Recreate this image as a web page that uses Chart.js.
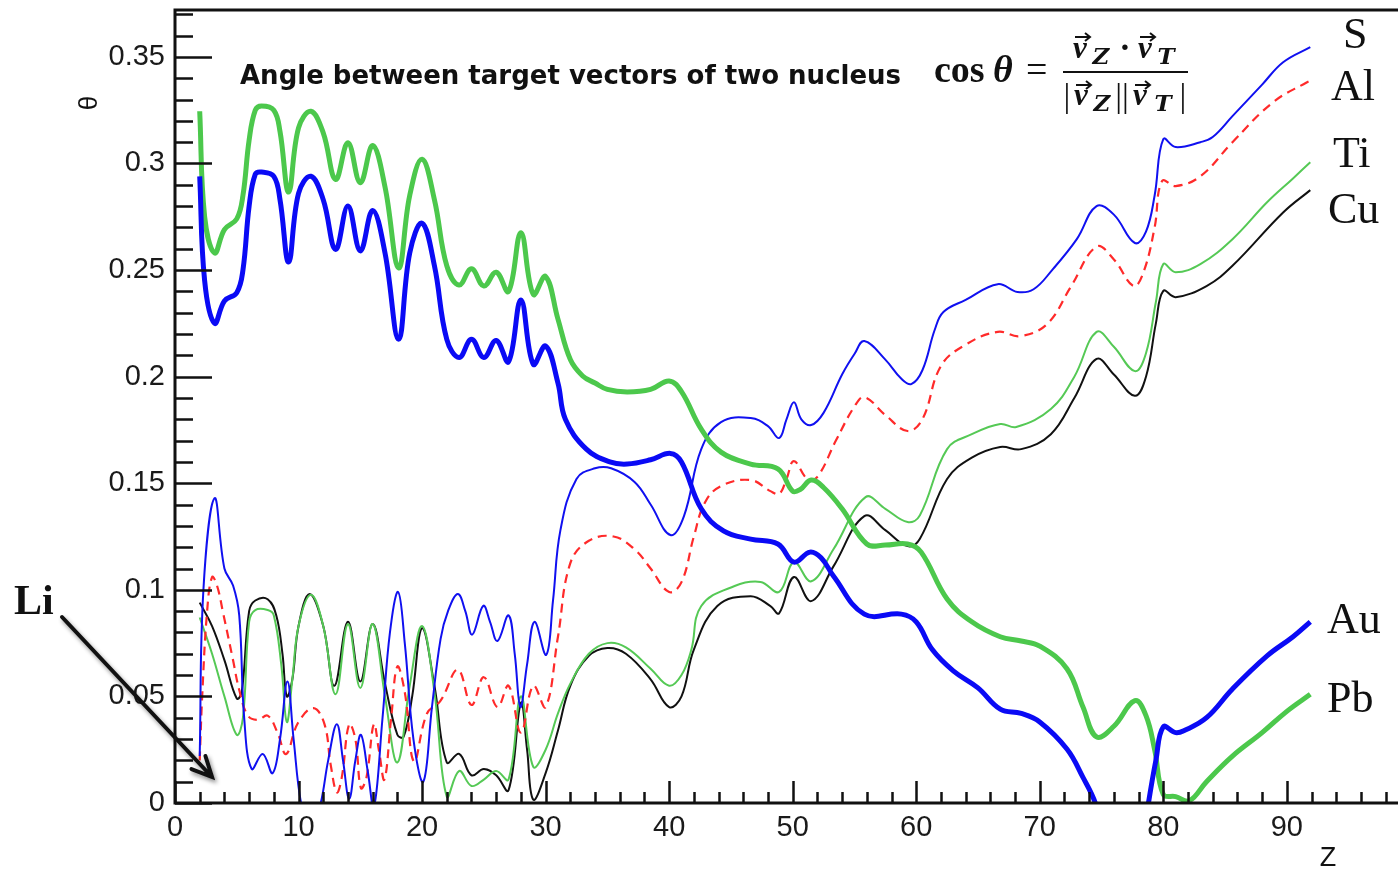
<!DOCTYPE html>
<html><head><meta charset="utf-8">
<script src="https://cdn.jsdelivr.net/npm/chart.js@4.4.1/dist/chart.umd.min.js"></script>
<style>html,body{margin:0;padding:0;background:#fff;overflow:hidden}canvas{display:block}</style>
</head><body>
<canvas id="c" width="1398" height="873"></canvas>
<script>
// ---- data (Z vs theta) ----
const sZ = [2,2.3,3.2,4,4.7,5.2,5.6,6.2,7.1,7.9,8.5,9.1,9.6,10.2,11,11.8,12.4,13.1,13.6,14.1,14.6,15.05,15.6,16.1,16.8,17.4,18.06,18.6,19.3,20.1,20.8,21.5,22.1,22.9,23.5,24.06,24.95,25.5,26.1,27,27.5,27.96,28.5,29.1,30.05,30.6,31.2,32.5,34,35.3,37.2,38.5,40.1,41.2,42.6,44.2,46.6,48,48.9,49.5,50.1,50.7,51.5,52.5,54,55,55.8,57.5,58.8,59.6,60.5,61.5,62.2,64,66.6,68.2,69.5,71,73,74.6,76,77.7,78.6,79.3,80,81,83,84,85.6,88,89.7,91.9];
const sTheta = [0.022,0.100,0.143,0.110,0.102,0.088,0.040,0.016,0.023,0.014,0.030,0.057,0.030,0.000,-0.015,0.000,0.020,0.037,0.020,0.002,0.020,0.032,0.015,-0.002,0.040,0.080,0.099,0.075,0.030,0.010,0.045,0.077,0.090,0.098,0.090,0.079,0.0925,0.085,0.076,0.088,0.070,0.045,0.065,0.085,0.0695,0.095,0.128,0.152,0.157,0.157,0.1506,0.140,0.1257,0.1346,0.166,0.1787,0.1806,0.1768,0.1712,0.180,0.188,0.180,0.1773,0.183,0.201,0.2106,0.2167,0.208,0.199,0.1965,0.203,0.222,0.2303,0.236,0.2434,0.2397,0.241,0.250,0.2645,0.280,0.276,0.2627,0.268,0.285,0.3114,0.3077,0.310,0.3124,0.3222,0.337,0.3475,0.3546];

const alZ = [2,2.2,2.6,3.0,3.4,3.9,4.7,5.2,5.9,6.7,7.5,8.3,9.0,9.95,11.2,12.1,12.6,13.1,13.5,14.1,14.6,15.05,15.5,16.1,16.5,16.95,17.5,18.0,18.6,19.35,20.4,21.5,22.9,24,25,26.1,27,28,29,30,31,32,33.5,35.5,37.2,38.5,40,41,42,42.9,44.2,46.6,48.2,48.9,49.5,50.1,51.2,52,53.5,55,55.8,57.5,59.3,60.5,62,64,66.6,68.4,70.6,72.5,74.6,76,77.6,78.4,79.3,79.9,81,83,85.6,88.9,91.6,92];
const alTheta = [0.020,0.050,0.090,0.106,0.102,0.089,0.067,0.053,0.041,0.039,0.041,0.033,0.023,0.0375,0.0445,0.037,0.018,0.005,0.012,0.037,0.030,0.007,0.012,0.037,0.025,0.011,0.040,0.064,0.052,0.0195,0.042,0.048,0.0625,0.046,0.059,0.045,0.055,0.033,0.055,0.045,0.078,0.1125,0.123,0.125,0.119,0.110,0.099,0.1036,0.125,0.141,0.1487,0.1515,0.1463,0.145,0.152,0.1604,0.152,0.153,0.170,0.186,0.1904,0.182,0.1745,0.180,0.205,0.215,0.221,0.219,0.2247,0.242,0.261,0.255,0.2425,0.249,0.270,0.2918,0.2894,0.294,0.310,0.3288,0.338,0.339];

const tiZ = [2,3,4,5,5.5,6,6.5,7.5,8,8.6,9.05,9.5,10,11,12,13,14,15,16,17,18,19,20,21,22,23,24,25,26,27,28,29,30,31,32,33.5,35,36.5,38.5,40,41,41.8,42.6,45.3,47.4,48.9,50.1,51.5,53.3,55.9,57.5,59.3,60.3,62.5,64.5,66.8,68.1,70.9,72.8,74.6,76,77.7,78.6,79.4,80,81,83,85.6,88.4,90.5,91.9];
const tiTheta = [0.087,0.070,0.050,0.032,0.040,0.085,0.0905,0.0905,0.088,0.065,0.038,0.058,0.083,0.0977,0.083,0.051,0.084,0.054,0.084,0.050,0.019,0.055,0.083,0.052,0.003,0.015,0.008,0.011,0.015,0.011,0.050,0.017,0.025,0.042,0.056,0.070,0.075,0.073,0.063,0.055,0.060,0.072,0.0924,0.1018,0.1037,0.099,0.113,0.104,0.119,0.1435,0.138,0.1318,0.135,0.166,0.173,0.1778,0.1764,0.1848,0.200,0.221,0.214,0.2026,0.211,0.235,0.2528,0.249,0.2528,0.2645,0.2818,0.293,0.3006];

const cuZ = [2,3,4,5,5.4,6,6.5,7.5,8.2,8.7,9.05,9.5,10,10.9,12,12.9,14,15,16,17,18,18.5,19.2,20,21,22,23,24,25,26,27,28,28.5,29,30,31,32,33.5,35,36.5,38.5,40,41,42,43.9,46.6,48.2,48.9,50.1,51.5,53.3,55.8,57.5,59.3,60.3,62.5,64.5,66.8,68.5,70.9,72.8,74.6,76,77.7,78.6,79.4,80,81,83.5,85.6,89.7,91.9];
const cuTheta = [0.094,0.083,0.067,0.049,0.052,0.090,0.095,0.0956,0.088,0.070,0.050,0.058,0.083,0.098,0.083,0.055,0.085,0.057,0.084,0.056,0.032,0.031,0.050,0.082,0.055,0.019,0.023,0.013,0.016,0.013,0.006,0.047,0.025,0.0016,0.014,0.034,0.055,0.069,0.0727,0.070,0.058,0.045,0.050,0.072,0.0924,0.097,0.0924,0.089,0.106,0.0947,0.111,0.1346,0.128,0.1205,0.124,0.152,0.162,0.167,0.166,0.173,0.190,0.2083,0.201,0.191,0.200,0.225,0.2402,0.2373,0.2425,0.252,0.277,0.2875];

const auZ = [2,2.4,3.2,4,5,5.5,6,6.5,7,8,8.5,9.2,10,11,12,13,14,15,16,17,18.1,19,20,21,22,23,24,25,26,27,28,29,30,31,31.6,33.3,35.2,36.6,38.5,40.1,41,42.6,44.4,46.6,48.8,50.1,51.4,52.3,53.3,55.8,58.8,60,61.3,63,65,66.8,68.5,70,72.2,73.5,74.5,75.5,77,78.3,78.8,79.4,80,81,81.7,83.5,85.6,88.4,90.5,91.9];
const auTheta = [0.294,0.245,0.225,0.2355,0.2394,0.250,0.280,0.295,0.296,0.294,0.283,0.2538,0.286,0.294,0.283,0.2597,0.280,0.259,0.278,0.258,0.2175,0.258,0.272,0.252,0.2175,0.209,0.2175,0.209,0.217,0.207,0.236,0.2058,0.2144,0.197,0.180,0.166,0.160,0.159,0.161,0.164,0.160,0.138,0.1276,0.1238,0.1215,0.113,0.1177,0.115,0.1065,0.0886,0.0886,0.085,0.072,0.062,0.054,0.044,0.042,0.038,0.0253,0.012,0.000,-0.020,-0.040,-0.020,0.000,0.020,0.0357,0.033,0.034,0.040,0.0535,0.069,0.078,0.085];

const pbZ = [2,2.4,3.2,4,5,5.5,6,6.5,7,8,8.5,9.2,10,11,12,13,14,15,16,17,18.1,19,20,21,22,23,24,25,26,27,28,29,30,31,32,33,34,35,36.6,38.5,40,41,42.6,44.2,46.6,48.8,50,50.6,51.5,52.5,54,56,57.5,59.3,60.4,62.5,64.5,66.8,68.5,70,72.2,73.5,74.6,76,77.7,78.6,79.3,80,81,82.1,83.5,85.6,88,90,91.9];
const pbTheta = [0.3245,0.275,0.258,0.269,0.274,0.285,0.311,0.325,0.327,0.325,0.315,0.2866,0.3167,0.3245,0.3144,0.2925,0.3097,0.291,0.3084,0.289,0.251,0.285,0.302,0.283,0.252,0.243,0.2506,0.2425,0.249,0.240,0.2675,0.2386,0.247,0.227,0.208,0.2003,0.197,0.194,0.1928,0.194,0.198,0.193,0.1754,0.1646,0.159,0.1567,0.1463,0.147,0.1515,0.148,0.138,0.1215,0.121,0.1215,0.1177,0.0957,0.085,0.078,0.076,0.0736,0.063,0.045,0.031,0.036,0.048,0.041,0.025,0.004,0.003,0.001,0.010,0.022,0.033,0.043,0.051];

const curveNames = ['S','Al','Ti','Cu','Au','Pb'];
const xTickStep = 10;      // labelled Z ticks
const yTickStep = 0.05;    // labelled theta ticks
const titleText = 'Angle between target vectors of two nucleus';

function pts(z, t){ return z.map((x,i)=>({x:x, y:t[i]})); }

const datasets = [
  {label:'Au', data:pts(auZ,auTheta), borderColor:'#0a0af5', borderWidth:5},
  {label:'Pb', data:pts(pbZ,pbTheta), borderColor:'#4cc84c', borderWidth:5},
  {label:'S',  data:pts(sZ,sTheta),   borderColor:'#1010f0', borderWidth:2},
  {label:'Al', data:pts(alZ,alTheta), borderColor:'#ff2a2a', borderWidth:2.2, borderDash:[9,6]},
  {label:'Ti', data:pts(tiZ,tiTheta), borderColor:'#55c955', borderWidth:2},
  {label:'Cu', data:pts(cuZ,cuTheta), borderColor:'#111111', borderWidth:2}
].map(d=>Object.assign(d,{pointRadius:0, tension:0.4, fill:false, clip:0}));

const deco = {
  id:'deco',
  afterDraw(chart){
    const ctx = chart.ctx, xs = chart.scales.x, ys = chart.scales.y, a = chart.chartArea;
    ctx.save();
    ctx.strokeStyle = '#111'; ctx.lineCap = 'butt';
    // frame (top, left, bottom)
    ctx.lineWidth = 3;
    ctx.beginPath();
    ctx.moveTo(a.right, a.top); ctx.lineTo(a.left, a.top); ctx.lineTo(a.left, a.bottom); ctx.lineTo(a.right, a.bottom);
    ctx.stroke();
    // ticks, inward
    ctx.lineWidth = 2.5;
    ctx.beginPath();
    for (let i=0;i<=37;i++){
      const py = Math.round(ys.getPixelForValue(i/100))+0.5;
      const len = (i%5===0)?37:18;
      ctx.moveTo(a.left, py); ctx.lineTo(a.left+len, py);
    }
    for (let i=0;i<=98;i+=2){
      const px = Math.round(xs.getPixelForValue(i))+0.5;
      const len = (i%10===0)?22:11;
      ctx.moveTo(px, a.bottom); ctx.lineTo(px, a.bottom-len);
    }
    ctx.stroke();

    ctx.fillStyle = '#111';
    // title
    ctx.font = 'bold 26px "DejaVu Sans"';
    ctx.textAlign = 'left'; ctx.textBaseline = 'alphabetic';
    ctx.fillText(titleText, 240, 84);

    // formula  cos θ = (vZ · vT) / (|vZ||vT|)
    ctx.font = 'bold 38px "Liberation Serif"';
    ctx.fillText('cos', 934, 82);
    ctx.font = 'bold italic 38px "Liberation Serif"';
    ctx.fillText('θ', 993, 82);
    ctx.font = '38px "Liberation Serif"';
    ctx.fillText('=', 1026, 82);
    ctx.textAlign = 'center';
    const vF = 'bold italic 31px "Liberation Serif"';
    const sF = 'bold italic 23px "DejaVu Serif"';
    const bF = '34px "Liberation Serif"';
    function glyph(t, f, x, y){ ctx.font = f; ctx.fillText(t, x, y); }
    function vec(x, y){
      ctx.lineWidth = 2;
      ctx.beginPath(); ctx.moveTo(x-6, y); ctx.lineTo(x+9, y); ctx.stroke();
      ctx.beginPath(); ctx.moveTo(x+4, y-4); ctx.lineTo(x+9, y); ctx.lineTo(x+4, y+4); ctx.stroke();
    }
    // numerator
    glyph('v', vF, 1080, 58); vec(1081, 37);
    glyph('Z', sF, 1101, 64);
    glyph('·', 'bold 34px "Liberation Serif"', 1125, 58);
    glyph('v', vF, 1145, 58); vec(1146, 37);
    glyph('T', sF, 1166, 64);
    // bar
    ctx.lineWidth = 2;
    ctx.beginPath(); ctx.moveTo(1063, 72); ctx.lineTo(1188, 72); ctx.stroke();
    // denominator
    glyph('|', bF, 1067, 107);
    glyph('v', vF, 1081, 105); vec(1082, 85);
    glyph('Z', sF, 1102, 111);
    glyph('||', bF, 1122, 107);
    glyph('v', vF, 1140, 105); vec(1141, 85);
    glyph('T', sF, 1163, 111);
    glyph('|', bF, 1183, 107);
    ctx.textAlign = 'left';

    // curve labels
    ctx.font = '44px "Liberation Serif"';
    const lab = [['S',1343,48],['Al',1331,100],['Ti',1333,167],['Cu',1328,223],['Au',1327,633],['Pb',1327,712]];
    lab.forEach((l,i)=>ctx.fillText(curveNames[i], l[1], l[2]));

    // Li + arrow
    ctx.font = 'bold 42px "Liberation Serif"';
    ctx.fillText('Li', 14, 614);
    ctx.shadowColor = 'rgba(0,0,0,0.45)'; ctx.shadowBlur = 4; ctx.shadowOffsetX = 2; ctx.shadowOffsetY = 3;
    ctx.lineWidth = 4; ctx.lineCap = 'round';
    const x0=62,y0=617,x1=212,y1=777;
    const ang = Math.atan2(y1-y0, x1-x0), hl = 22;
    ctx.beginPath();
    ctx.moveTo(x0,y0); ctx.lineTo(x1,y1);
    ctx.moveTo(x1 - hl*Math.cos(ang-0.45), y1 - hl*Math.sin(ang-0.45)); ctx.lineTo(x1,y1);
    ctx.lineTo(x1 - hl*Math.cos(ang+0.45), y1 - hl*Math.sin(ang+0.45));
    ctx.stroke();
    ctx.shadowColor = 'transparent';

    // axis titles
    ctx.font = '27px "Liberation Sans"';
    ctx.textAlign = 'center'; ctx.textBaseline = 'middle';
    ctx.fillText('Z', 1328, 859);
    ctx.save(); ctx.translate(90, 103); ctx.rotate(-Math.PI/2);
    ctx.font = '26px "Liberation Sans"'; ctx.fillText('θ', 0, 0); ctx.restore();
    ctx.restore();
  }
};

new Chart(document.getElementById('c'), {
  type:'line',
  data:{datasets},
  options:{
    responsive:false, animation:false, devicePixelRatio:1,
    layout:{padding:{top:10,left:0,right:0,bottom:0}},
    plugins:{legend:{display:false}, tooltip:{enabled:false}},
    elements:{line:{borderCapStyle:'butt'}},
    scales:{
      x:{type:'linear', min:0, max:99,
         grid:{display:false, drawTicks:false}, border:{display:false},
         ticks:{stepSize:xTickStep, includeBounds:false, padding:8, color:'#1a1a1a',
                font:{family:'"Liberation Sans"', size:29},
                callback:v=> (v%10===0 && v<=90) ? String(v) : ''},
         afterFit:s=>{s.height=70; s.paddingLeft=0; s.paddingRight=0;}},
      y:{type:'linear', min:0, max:0.372,
         grid:{display:false, drawTicks:false}, border:{display:false},
         ticks:{stepSize:yTickStep, includeBounds:false, padding:10, color:'#1a1a1a',
                font:{family:'"Liberation Sans"', size:29},
                callback:v=> String(Number(v.toFixed(2)))},
         afterFit:s=>{s.width=175; s.paddingTop=0; s.paddingBottom=0;}}
    }
  },
  plugins:[deco]
});
</script>
</body></html>
